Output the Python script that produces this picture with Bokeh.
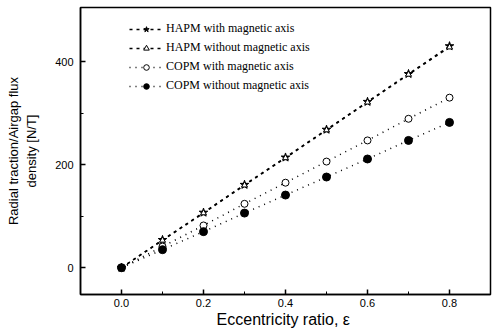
from bokeh.plotting import figure
from bokeh.embed import file_html
from bokeh.resources import INLINE
from bokeh.models import Range1d, FixedTicker, Legend, LegendItem, CustomJSTickFormatter

ecc = [0.0, 0.1, 0.2, 0.3, 0.4, 0.5, 0.6, 0.7, 0.8]
hapm_with = [0, 54, 107, 161, 214, 268, 322, 376, 430]
hapm_without = [0, 53, 106, 160, 213, 267, 321, 375, 428]
copm_with = [0, 41, 82, 124, 165, 206, 247, 289, 330]
copm_without = [0, 35, 70, 106, 141, 176, 211, 247, 282]
x_ticks = [0.0, 0.2, 0.4, 0.6, 0.8]
y_ticks = [0, 200, 400]

p = figure(width=492, height=332, output_backend="svg", toolbar_location=None,
           x_range=Range1d(-0.1, 0.9), y_range=Range1d(-52, 505),
           min_border_left=80, min_border_right=2, min_border_top=7, min_border_bottom=38)
p.xgrid.visible = False
p.ygrid.visible = False
p.outline_line_color = "black"
p.outline_line_width = 1.5
p.background_fill_color = "white"

for ax in (p.xaxis[0], p.yaxis[0]):
    ax.axis_line_width = 1.5
    ax.major_tick_in = 5
    ax.major_tick_out = 0
    ax.minor_tick_in = 3
    ax.minor_tick_out = 0
    ax.major_tick_line_width = 1.5
    ax.major_label_text_font = "Liberation Sans"
    ax.major_label_text_font_size = "11px"
    ax.major_label_text_color = "black"
    ax.axis_label_text_font = "Liberation Sans"
    ax.axis_label_text_font_style = "normal"
    ax.axis_label_text_color = "black"

p.xaxis.ticker = FixedTicker(ticks=x_ticks, minor_ticks=[-0.1, 0.1, 0.3, 0.5, 0.7])
p.yaxis.ticker = FixedTicker(ticks=y_ticks, minor_ticks=[100, 300])
p.xaxis.formatter = CustomJSTickFormatter(code="return tick.toFixed(1);")
p.xaxis.axis_label = "Eccentricity ratio,  \u03b5"
p.xaxis.axis_label_text_font_size = "16px"
p.xaxis.axis_label_standoff = 1
p.xaxis.major_label_standoff = 4
p.yaxis.axis_label = "Radial traction/Airgap flux\ndensity [N/T]"
p.yaxis.axis_label_text_font_size = "13px"
p.yaxis.axis_label_text_align = "center"
p.yaxis.axis_label_standoff = 13
p.yaxis.major_label_standoff = 7

l1 = p.line(ecc, hapm_with, line_color="black", line_width=1.5, line_dash="3 4")
m1 = p.scatter(ecc, hapm_with, marker="star", size=9, fill_color="black", line_color="black")
l2 = p.line(ecc, hapm_without, line_color="black", line_width=1.5, line_dash="3 4")
m2 = p.scatter(ecc, hapm_without, marker="triangle", size=6, fill_color="white", line_color="black")
l3 = p.line(ecc, copm_with, line_color="black", line_width=1.5, line_dash="1 5")
m3 = p.scatter(ecc, copm_with, marker="circle", size=7, fill_color="white", line_color="black")
l4 = p.line(ecc, copm_without, line_color="black", line_width=1.5, line_dash="1 5")
m4 = p.scatter(ecc, copm_without, marker="circle", size=8, fill_color="black", line_color="black")

legend = Legend(items=[
    LegendItem(label="HAPM with magnetic axis", renderers=[l1, m1]),
    LegendItem(label="HAPM without magnetic axis", renderers=[l2, m2]),
    LegendItem(label="COPM with magnetic axis", renderers=[l3, m3]),
    LegendItem(label="COPM without magnetic axis", renderers=[l4, m4]),
], location=(45, 197))
legend.background_fill_alpha = 0
legend.border_line_alpha = 0
legend.label_text_font = "Liberation Serif"
legend.label_text_font_size = "12px"
legend.label_text_color = "black"
legend.glyph_width = 34
legend.glyph_height = 14
legend.spacing = 4
legend.padding = 4
legend.margin = 0
legend.label_standoff = 3
legend.label_height = 14
p.add_layout(legend)

open("out.html", "w").write(file_html(p, INLINE))
